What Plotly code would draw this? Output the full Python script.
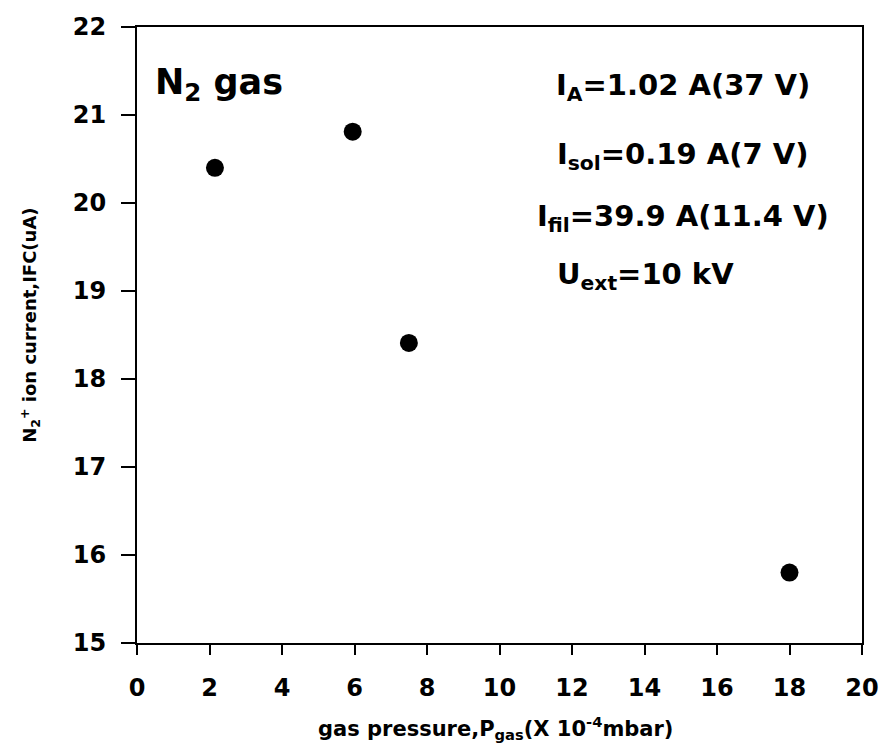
import plotly.graph_objects as go

# data
pressure = [2.15, 5.95, 7.5, 18.0]          # x 10^-4 mbar
ion_current = [20.4, 20.81, 18.41, 15.8]    # uA

x_ticks = [0, 2, 4, 6, 8, 10, 12, 14, 16, 18, 20]
y_ticks = [15, 16, 17, 18, 19, 20, 21, 22]

FONT = "DejaVu Sans"

fig = go.Figure()
fig.add_trace(go.Scatter(
    x=pressure, y=ion_current, mode="markers",
    marker=dict(color="black", size=18, symbol="circle"),
    showlegend=False, hoverinfo="x+y",
))

fig.update_layout(
    width=880, height=745,
    margin=dict(l=137, r=18, t=27, b=102),
    paper_bgcolor="white", plot_bgcolor="white",
    font=dict(family=FONT, color="black"),
    xaxis=dict(
        range=[0, 20], tickvals=x_ticks, ticktext=[str(v) for v in x_ticks],
        showgrid=False, zeroline=False, showline=True, linecolor="black",
        linewidth=2, mirror=True, ticks="outside", ticklen=10, tickwidth=2,
        tickcolor="black", ticklabelstandoff=12, automargin=False,
        tickfont=dict(family=FONT, size=24, weight="bold"),
    ),
    yaxis=dict(
        range=[15, 22], tickvals=y_ticks, ticktext=[str(v) for v in y_ticks],
        showgrid=False, zeroline=False, showline=True, linecolor="black",
        linewidth=2, mirror=True, ticks="outside", ticklen=14, tickwidth=2,
        tickcolor="black", ticklabelstandoff=10, automargin=False,
        tickfont=dict(family=FONT, size=24, weight="bold"),
    ),
)

def ann(text, x, y, size, xanchor="center", textangle=0):
    fig.add_annotation(
        text=text, x=x, y=y, xref="paper", yref="paper",
        showarrow=False, xanchor=xanchor, yanchor="middle",
        textangle=textangle,
        font=dict(family=FONT, size=size, color="black", weight="bold"),
    )

# axis titles
ann("gas pressure,P<sub>gas</sub>(X 10<sup>-4</sup>mbar)", 0.495, -0.138, 21)
ann("N<sub>2</sub><sup>+</sup> ion current,IFC(uA)", -0.148, 0.516, 18, textangle=-90)

# in-plot labels
ann("N<sub>2</sub> gas", 0.022, 0.906, 35, xanchor="left")
ann("I<sub>A</sub>=1.02 A(37 V)", 0.753, 0.903, 29)
ann("I<sub>sol</sub>=0.19 A(7 V)", 0.753, 0.79, 29)
ann("I<sub>fil</sub>=39.9 A(11.4 V)", 0.753, 0.69, 29)
ann("U<sub>ext</sub>=10 kV", 0.577, 0.595, 29, xanchor="left")

fig.write_html("out.html")
